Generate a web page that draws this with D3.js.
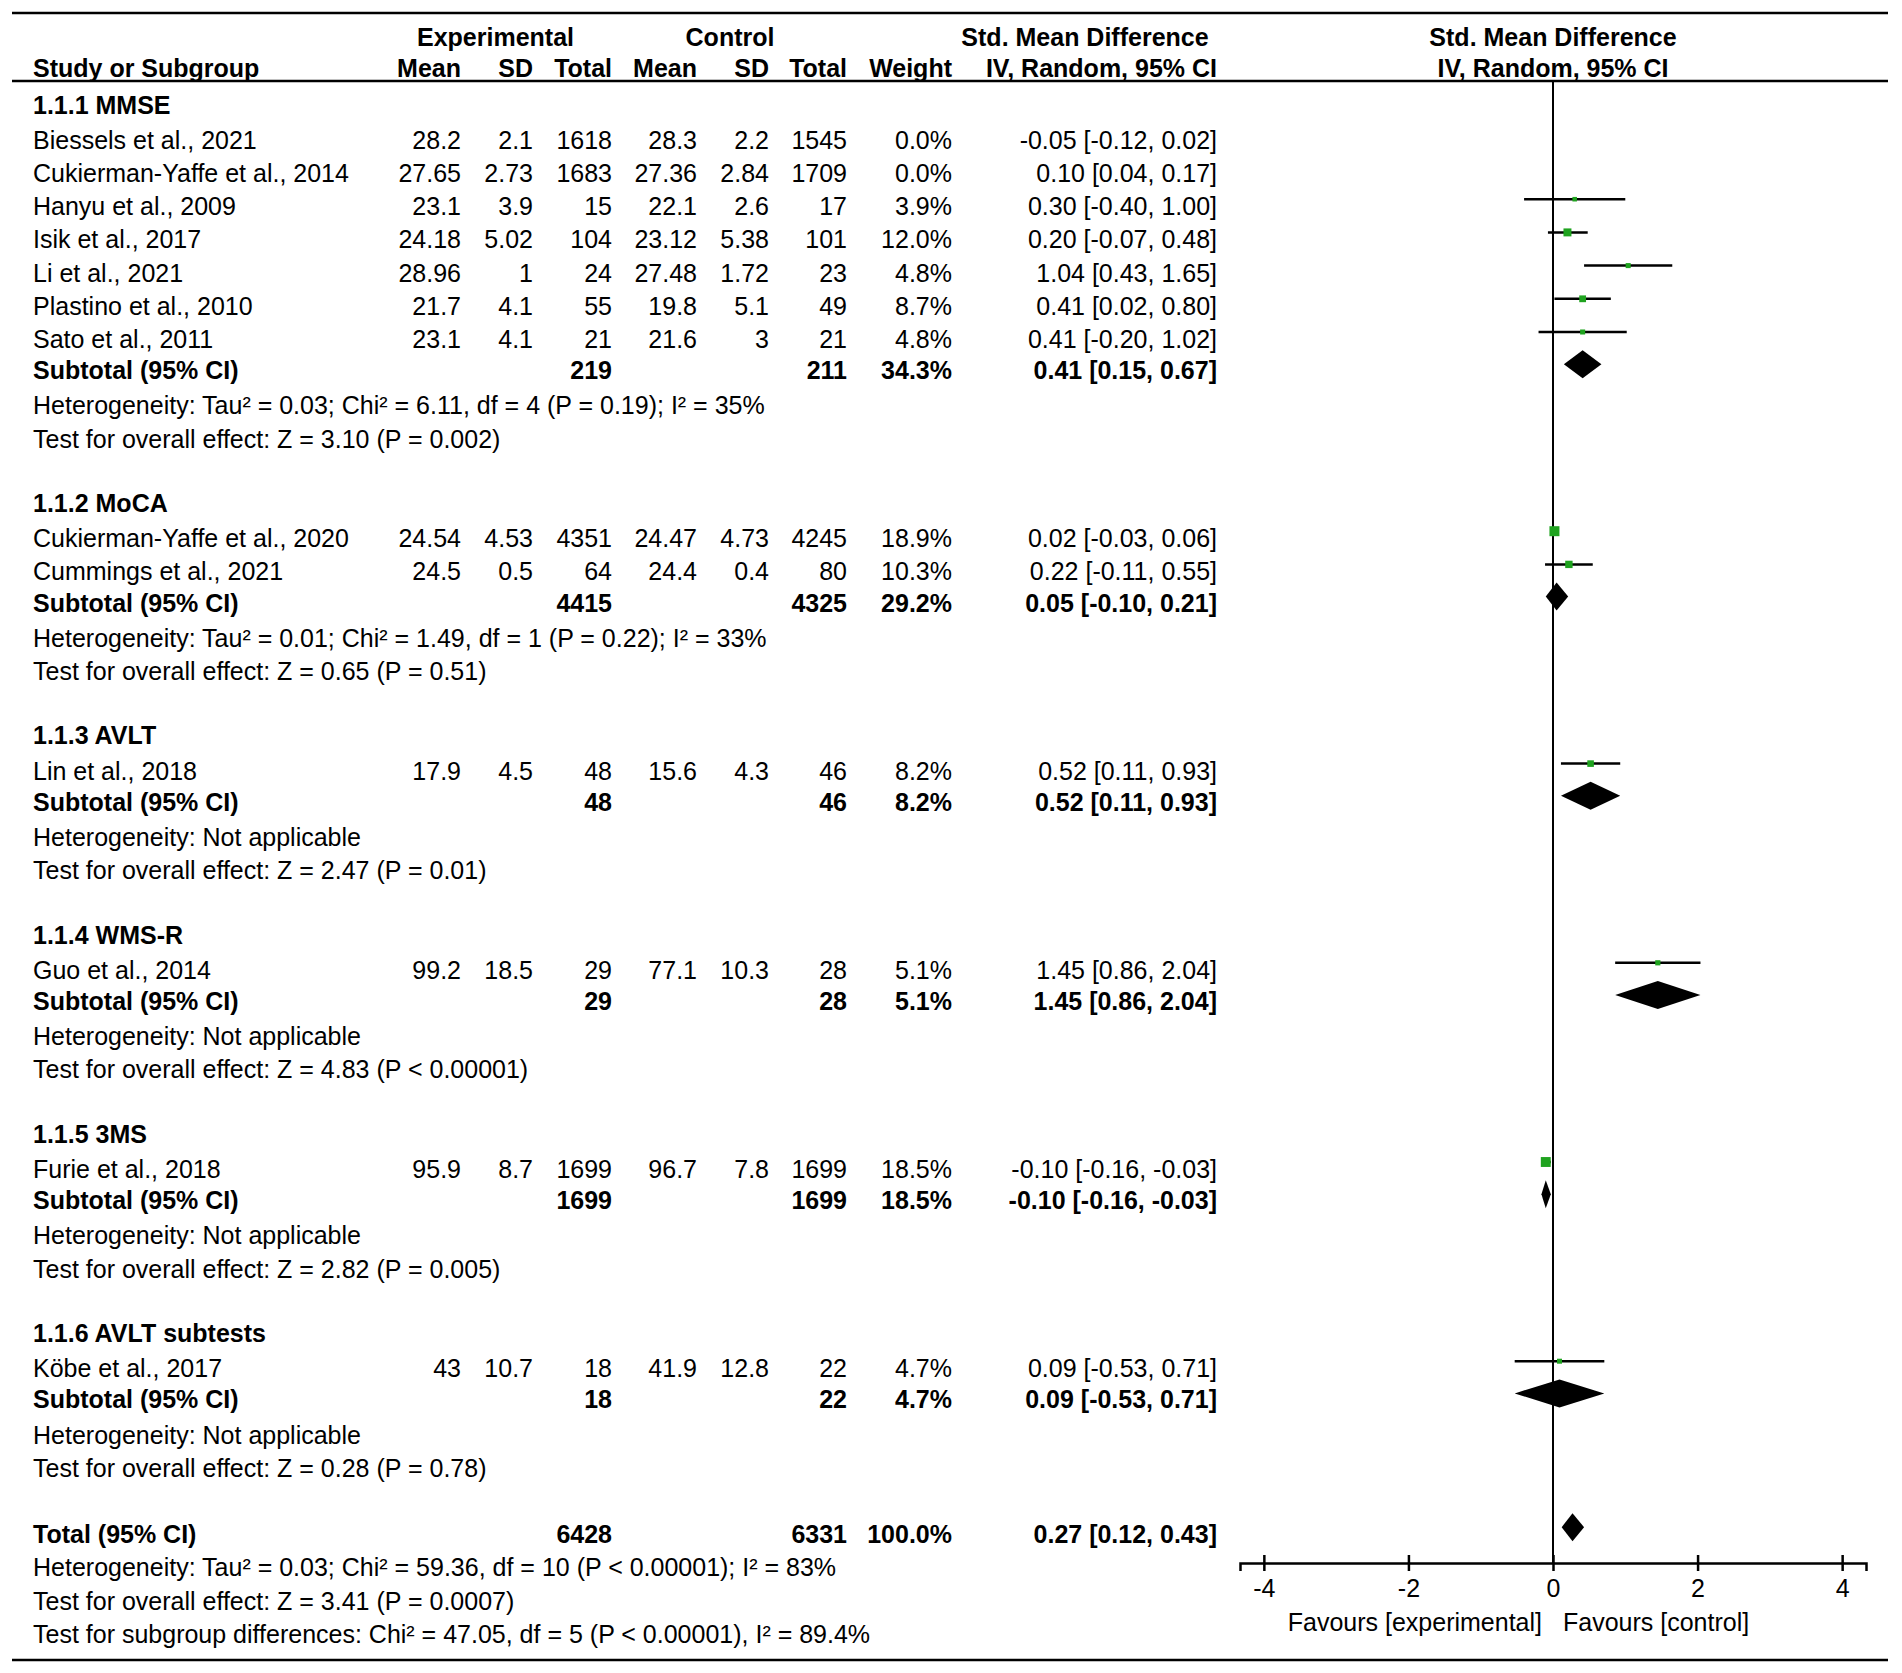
<!DOCTYPE html>
<html><head><meta charset="utf-8">
<script src="https://cdn.jsdelivr.net/npm/d3@7"></script>
<style>
html,body{margin:0;padding:0;background:#fff;}
svg{display:block;}
text{font-family:'Liberation Sans',Arial,Helvetica,sans-serif;font-size:25px;fill:#000;}
</style>
</head><body>
<svg id="chart" width="1902" height="1673"></svg>
<script>
// ---------------- data ----------------
const subgroupNames = ["1.1.1 MMSE","1.1.2 MoCA","1.1.3 AVLT","1.1.4 WMS-R","1.1.5 3MS","1.1.6 AVLT subtests"];
const studyNames = ["Biessels et al., 2021","Cukierman-Yaffe et al., 2014","Hanyu et al., 2009","Isik et al., 2017","Li et al., 2021","Plastino et al., 2010","Sato et al., 2011","Cukierman-Yaffe et al., 2020","Cummings et al., 2021","Lin et al., 2018","Guo et al., 2014","Furie et al., 2018","Köbe et al., 2017"];
const studyGroup = [0,0,0,0,0,0,0,1,1,2,3,4,5];
const expMean = [28.2,27.65,23.1,24.18,28.96,21.7,23.1,24.54,24.5,17.9,99.2,95.9,43];
const expSD = [2.1,2.73,3.9,5.02,1,4.1,4.1,4.53,0.5,4.5,18.5,8.7,10.7];
const expTotal = [1618,1683,15,104,24,55,21,4351,64,48,29,1699,18];
const ctlMean = [28.3,27.36,22.1,23.12,27.48,19.8,21.6,24.47,24.4,15.6,77.1,96.7,41.9];
const ctlSD = [2.2,2.84,2.6,5.38,1.72,5.1,3,4.73,0.4,4.3,10.3,7.8,12.8];
const ctlTotal = [1545,1709,17,101,23,49,21,4245,80,46,28,1699,22];
const studyWeight = [0.0,0.0,3.9,12.0,4.8,8.7,4.8,18.9,10.3,8.2,5.1,18.5,4.7];
const studySMD = [-0.05,0.10,0.30,0.20,1.04,0.41,0.41,0.02,0.22,0.52,1.45,-0.10,0.09];
const studyLow = [-0.12,0.04,-0.40,-0.07,0.43,0.02,-0.20,-0.03,-0.11,0.11,0.86,-0.16,-0.53];
const studyHigh = [0.02,0.17,1.00,0.48,1.65,0.80,1.02,0.06,0.55,0.93,2.04,-0.03,0.71];

const subExpTotal = [219,4415,48,29,1699,18];
const subCtlTotal = [211,4325,46,28,1699,22];
const subWeight = [34.3,29.2,8.2,5.1,18.5,4.7];
const subSMD = [0.41,0.05,0.52,1.45,-0.10,0.09];
const subLow = [0.15,-0.10,0.11,0.86,-0.16,-0.53];
const subHigh = [0.67,0.21,0.93,2.04,-0.03,0.71];
const subHeterogeneity = [
  "Heterogeneity: Tau² = 0.03; Chi² = 6.11, df = 4 (P = 0.19); I² = 35%",
  "Heterogeneity: Tau² = 0.01; Chi² = 1.49, df = 1 (P = 0.22); I² = 33%",
  "Heterogeneity: Not applicable",
  "Heterogeneity: Not applicable",
  "Heterogeneity: Not applicable",
  "Heterogeneity: Not applicable"];
const subOverall = [
  "Test for overall effect: Z = 3.10 (P = 0.002)",
  "Test for overall effect: Z = 0.65 (P = 0.51)",
  "Test for overall effect: Z = 2.47 (P = 0.01)",
  "Test for overall effect: Z = 4.83 (P < 0.00001)",
  "Test for overall effect: Z = 2.82 (P = 0.005)",
  "Test for overall effect: Z = 0.28 (P = 0.78)"];

const totalExp = 6428, totalCtl = 6331, totalWeight = 100.0;
const totalSMD = 0.27, totalLow = 0.12, totalHigh = 0.43;
const totalNotes = [
  "Heterogeneity: Tau² = 0.03; Chi² = 59.36, df = 10 (P < 0.00001); I² = 83%",
  "Test for overall effect: Z = 3.41 (P = 0.0007)",
  "Test for subgroup differences: Chi² = 47.05, df = 5 (P < 0.00001), I² = 89.4%"];

const axisTicks = [-4,-2,0,2,4];
const favourLabels = ["Favours [experimental]","Favours [control]"];

// ---------------- layout ----------------
const svg = d3.select("#chart");
svg.append("rect").attr("width",1902).attr("height",1673).attr("fill","#fff");

const x = d3.scaleLinear().domain([-4.33,4.33]).range([1240,1866]);
const rowY = k => 99.6 + 33.2*k;
const colX = {study:33, eMean:461, eSD:533, eTot:612, cMean:697, cSD:769, cTot:847, weight:952, ci:1217};
const f2 = v => v.toFixed(2);
const ciStr = (m,l,h) => `${f2(m)} [${f2(l)}, ${f2(h)}]`;
const wStr = w => w.toFixed(1) + "%";

function txt(xp, yp, s, anchor, bold){
  svg.append("text").attr("x",xp).attr("y",yp)
    .attr("text-anchor",anchor||"start")
    .attr("font-weight",bold?"bold":"normal")
    .text(s);
}
function diamond(yc, m, l, h){
  const p = d3.path();
  p.moveTo(x(l),yc); p.lineTo(x(m),yc-14); p.lineTo(x(h),yc); p.lineTo(x(m),yc+14); p.closePath();
  svg.append("path").attr("d",p.toString()).attr("fill","#000");
}

// rules
const ruleX0 = 12, ruleX1 = 1888;
[13,81,1660].forEach(yy=>{
  svg.append("line").attr("x1",ruleX0).attr("x2",ruleX1).attr("y1",yy).attr("y2",yy)
    .attr("stroke","#000").attr("stroke-width",2.5);
});

// headers
txt(495.5,46,"Experimental","middle",true);
txt(730,46,"Control","middle",true);
txt(1085,46,"Std. Mean Difference","middle",true);
txt(x(0),46,"Std. Mean Difference","middle",true);
txt(colX.study,77,"Study or Subgroup","start",true);
txt(colX.eMean,77,"Mean","end",true);
txt(colX.eSD,77,"SD","end",true);
txt(colX.eTot,77,"Total","end",true);
txt(colX.cMean,77,"Mean","end",true);
txt(colX.cSD,77,"SD","end",true);
txt(colX.cTot,77,"Total","end",true);
txt(colX.weight,77,"Weight","end",true);
txt(colX.ci,77,"IV, Random, 95% CI","end",true);
txt(x(0),77,"IV, Random, 95% CI","middle",true);

// axis (drawn before marks' zero line)
const axisY = 1563;
svg.append("line").attr("x1",x(0)).attr("x2",x(0)).attr("y1",81).attr("y2",axisY)
  .attr("stroke","#000").attr("stroke-width",2);

const markG = svg.append("g");
let k = 0;
subgroupNames.forEach((gname, g)=>{
  txt(colX.study, rowY(k)+14, gname, "start", true);
  k++;
  studyNames.forEach((nm,i)=>{
    if(studyGroup[i]!==g) return;
    const yb = rowY(k)+16;
    txt(colX.study,yb,nm,"start",false);
    txt(colX.eMean,yb,String(expMean[i]),"end");
    txt(colX.eSD,yb,String(expSD[i]),"end");
    txt(colX.eTot,yb,String(expTotal[i]),"end");
    txt(colX.cMean,yb,String(ctlMean[i]),"end");
    txt(colX.cSD,yb,String(ctlSD[i]),"end");
    txt(colX.cTot,yb,String(ctlTotal[i]),"end");
    txt(colX.weight,yb,wStr(studyWeight[i]),"end");
    txt(colX.ci,yb,ciStr(studySMD[i],studyLow[i],studyHigh[i]),"end");
    if(studyWeight[i]>0){
      const yc = rowY(k);
      markG.append("line").attr("x1",x(studyLow[i])).attr("x2",x(studyHigh[i]))
        .attr("y1",yc).attr("y2",yc).attr("stroke","#000").attr("stroke-width",2.5);
      const s = 2.3*Math.sqrt(studyWeight[i]);
      markG.append("rect").attr("x",x(studySMD[i])-s/2).attr("y",yc-s/2)
        .attr("width",s).attr("height",s).attr("fill","#1fa31f");
    }
    k++;
  });
  const yb = rowY(k)+14;
  txt(colX.study,yb,"Subtotal (95% CI)","start",true);
  txt(colX.eTot,yb,String(subExpTotal[g]),"end",true);
  txt(colX.cTot,yb,String(subCtlTotal[g]),"end",true);
  txt(colX.weight,yb,wStr(subWeight[g]),"end",true);
  txt(colX.ci,yb,ciStr(subSMD[g],subLow[g],subHigh[g]),"end",true);
  diamond(rowY(k)-1, subSMD[g], subLow[g], subHigh[g]);
  k++;
  txt(colX.study,rowY(k)+16,subHeterogeneity[g],"start",false); k++;
  txt(colX.study,rowY(k)+16,subOverall[g],"start",false); k++;
  k++; // blank
});

// total
{
  const yb = rowY(k)+16;
  txt(colX.study,yb,"Total (95% CI)","start",true);
  txt(colX.eTot,yb,String(totalExp),"end",true);
  txt(colX.cTot,yb,String(totalCtl),"end",true);
  txt(colX.weight,yb,wStr(totalWeight),"end",true);
  txt(colX.ci,yb,ciStr(totalSMD,totalLow,totalHigh),"end",true);
  diamond(rowY(k), totalSMD, totalLow, totalHigh);
  k++;
  totalNotes.forEach(n=>{ txt(colX.study,rowY(k)+16,n,"start",false); k++; });
}

// x axis
const axis = d3.axisBottom(x).tickValues(axisTicks).tickSizeOuter(0).tickSize(8).tickFormat(d=>String(d));
const ag = svg.append("g").attr("transform",`translate(0,${axisY})`).call(axis);
ag.select(".domain").attr("stroke","#000").attr("stroke-width",2.5);
ag.selectAll(".tick line").attr("y1",-8).attr("y2",8).attr("stroke","#000").attr("stroke-width",2.5);
ag.selectAll(".tick text").attr("y",34).attr("dy",0)
  .attr("font-family","'Liberation Sans',Arial,Helvetica,sans-serif").attr("font-size",25).attr("fill","#000");

txt(x(0)-11,1631,favourLabels[0],"end",false);
txt(x(0)+10,1631,favourLabels[1],"start",false);
</script>
</body></html>
